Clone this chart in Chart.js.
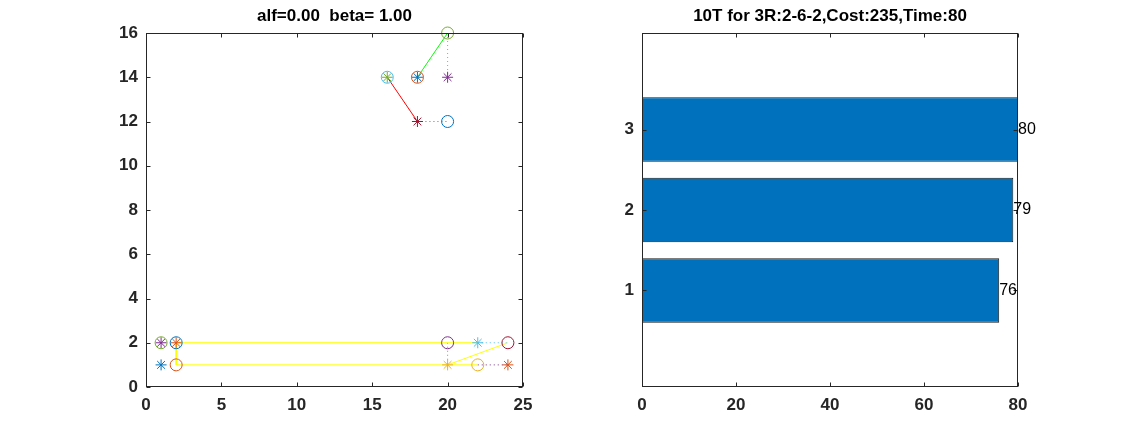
<!DOCTYPE html>
<html>
<head>
<meta charset="utf-8">
<script src="https://cdn.jsdelivr.net/npm/chart.js@4.4.1/dist/chart.umd.min.js"></script>
<style>
  body { margin: 0; background: #fff; }
  canvas { position: absolute; top: 0; }
</style>
</head>
<body>
<canvas id="left" width="560" height="435" style="left:0"></canvas>
<canvas id="right" width="565" height="435" style="left:560px"></canvas>
<script>
// ---- left panel: points ----
const circleCyan = [[16, 14]];
const circleOrange = [[18, 14], [2, 1]];
const circleGreen = [[20, 16], [1, 2]];
const circleBlue = [[20, 12], [2, 2]];
const circlePurple = [[20, 2]];
const circleDarkRed = [[24, 2]];
const circleYellow = [[22, 1]];

const starGreen = [[16, 14]];
const starBlue = [[18, 14], [1, 1]];
const starPurple = [[20, 14], [1, 2]];
const starDarkRed = [[18, 12]];
const starOrange = [[2, 2], [24, 1]];
const starCyan = [[22, 2]];
const starYellow = [[20, 1]];

// ---- left panel: route segments ----
const redRoute = [[16, 14], [18, 12]];
const greenRoute = [[18, 14], [20, 16]];
const yellowRoute = [[22, 2], [2, 2], [2, 1], [22, 1]];
const yellowRoute2 = [[20, 1], [24, 2]];
const dotCyanTop = [[20, 16], [20, 14]];
const dotOrangeTop = [[18, 12], [20, 12]];
const dotGreen = [[20, 2], [20, 1]];
const dotCyan = [[22, 2], [24, 2]];
const dotPurple = [[22, 1], [24, 1]];

// ---- right panel ----
const barCats = [1, 2, 3];
const barValues = [76, 79, 80];

const leftTitle = 'alf=0.00  beta= 1.00';
const rightTitle = '10T for 3R:2-6-2,Cost:235,Time:80';

const axisColor = '#262626';
const fontFamily = '"Liberation Sans", Arial, sans-serif';

const pts = arr => arr.map(p => ({ x: p[0], y: p[1] }));

function circles(arr, color) {
  return { data: pts(arr), showLine: false, clip: false, pointStyle: 'circle', pointRadius: 6,
    pointBorderColor: color, pointBackgroundColor: 'rgba(0,0,0,0)', pointBorderWidth: 1 };
}
function stars(arr, color) {
  return { data: pts(arr), showLine: false, clip: false, pointStyle: 'star', pointRadius: 5.5,
    pointBorderColor: color, pointBackgroundColor: color, pointBorderWidth: 1 };
}
function route(arr, color, dotted) {
  return { data: pts(arr), showLine: true, clip: false, pointRadius: 0, borderColor: color,
    borderWidth: 1, borderDash: dotted ? [1, 3] : [] };
}

// box with inward ticks and title above chart area
const boxPlugin = {
  id: 'box',
  afterDatasetsDraw(chart) {
    const { ctx, chartArea: a, scales: { x, y } } = chart;
    ctx.save();
    ctx.strokeStyle = axisColor;
    ctx.lineWidth = 1;
    const L = Math.round(a.left) + 0.5, R = Math.round(a.right) - 0.5;
    const T = Math.round(a.top) + 0.5, B = Math.round(a.bottom) - 0.5;
    ctx.strokeRect(L, T, R - L, B - T);
    ctx.beginPath();
    x.ticks.forEach((t, i) => {
      const px = Math.round(x.getPixelForTick(i)) + 0.5;
      ctx.moveTo(px, B); ctx.lineTo(px, B - 4);
      ctx.moveTo(px, T); ctx.lineTo(px, T + 4);
    });
    y.ticks.forEach((t, i) => {
      const py = Math.round(y.getPixelForTick(i)) + 0.5;
      ctx.moveTo(L, py); ctx.lineTo(L + 4, py);
      ctx.moveTo(R, py); ctx.lineTo(R - 4, py);
    });
    ctx.stroke();
    ctx.fillStyle = '#000';
    ctx.font = 'bold 17px ' + fontFamily;
    ctx.textAlign = 'center';
    ctx.textBaseline = 'middle';
    ctx.fillText(chart.options.plugins.box.title, (a.left + a.right) / 2, 16);
    ctx.restore();
  }
};

const tickFont = { family: fontFamily, size: 17, weight: 'bold' };

new Chart(document.getElementById('left'), {
  type: 'scatter',
  data: {
    datasets: [
      circles(circleCyan, '#4DBEEE'), circles(circleOrange, '#D95319'),
      circles(circleGreen, '#77AC30'), circles(circleBlue, '#0072BD'),
      circles(circlePurple, '#7E2F8E'), circles(circleDarkRed, '#A2142F'),
      circles(circleYellow, '#EDB120'),
      stars(starGreen, '#77AC30'), stars(starBlue, '#0072BD'),
      stars(starPurple, '#7E2F8E'), stars(starDarkRed, '#A2142F'),
      stars(starOrange, '#D95319'), stars(starCyan, '#4DBEEE'),
      stars(starYellow, '#EDB120'),
      route(redRoute, '#FF0000'), route(greenRoute, '#00FF00'),
      route(yellowRoute, '#FFFF00'), route(yellowRoute2, '#FFFF00'),
      route(dotCyanTop, '#4DBEEE', true), route(dotOrangeTop, '#D95319', true),
      route(dotGreen, '#77AC30', true), route(dotCyan, '#4DBEEE', true),
      route(dotPurple, '#7E2F8E', true)
    ]
  },
  options: {
    responsive: false,
    animation: false,
    devicePixelRatio: 1,
    layout: { padding: { top: 33, right: 37, left: 0, bottom: 0 } },
    plugins: { legend: { display: false }, tooltip: { enabled: false }, box: { title: leftTitle } },
    scales: {
      x: {
        type: 'linear', min: 0, max: 25,
        ticks: { stepSize: 5, font: tickFont, color: axisColor, padding: 8, maxRotation: 0 },
        grid: { display: false, drawTicks: false }, border: { display: false },
        afterFit: s => { s.height = 48; }
      },
      y: {
        type: 'linear', min: 0, max: 16,
        ticks: { stepSize: 2, font: tickFont, color: axisColor, padding: 8 },
        grid: { display: false, drawTicks: false }, border: { display: false },
        afterFit: s => { s.width = 146; }
      }
    }
  },
  plugins: [boxPlugin]
});

const valueLabels = {
  id: 'valueLabels',
  afterDatasetsDraw(chart) {
    const { ctx, scales: { x, y } } = chart;
    ctx.save();
    ctx.fillStyle = '#000';
    ctx.font = '16px ' + fontFamily;
    ctx.textAlign = 'left';
    ctx.textBaseline = 'middle';
    barValues.forEach((v, i) => {
      ctx.fillText(String(v), x.getPixelForValue(v), y.getPixelForValue(barCats[i]));
    });
    ctx.restore();
  }
};

new Chart(document.getElementById('right'), {
  type: 'bar',
  data: {
    datasets: [{
      data: barCats.map((c, i) => ({ x: barValues[i], y: c })),
      backgroundColor: '#0072BD',
      borderColor: '#1a1a1a',
      borderWidth: 1,
      borderSkipped: false,
      barPercentage: 0.8,
      categoryPercentage: 1
    }]
  },
  options: {
    indexAxis: 'y',
    responsive: false,
    animation: false,
    devicePixelRatio: 1,
    layout: { padding: { top: 33, right: 107, left: 0, bottom: 0 } },
    plugins: { legend: { display: false }, tooltip: { enabled: false }, box: { title: rightTitle } },
    scales: {
      x: {
        type: 'linear', min: 0, max: 80,
        ticks: { stepSize: 20, font: tickFont, color: axisColor, padding: 8, maxRotation: 0 },
        grid: { display: false, drawTicks: false }, border: { display: false },
        afterFit: s => { s.height = 48; }
      },
      y: {
        type: 'linear', min: -0.2, max: 4.2, offset: false,
        afterBuildTicks: s => { s.ticks = barCats.map(v => ({ value: v })); },
        ticks: { font: tickFont, color: axisColor, padding: 8 },
        grid: { display: false, drawTicks: false }, border: { display: false },
        afterFit: s => { s.width = 82; }
      }
    }
  },
  plugins: [boxPlugin, valueLabels]
});
</script>
</body>
</html>
